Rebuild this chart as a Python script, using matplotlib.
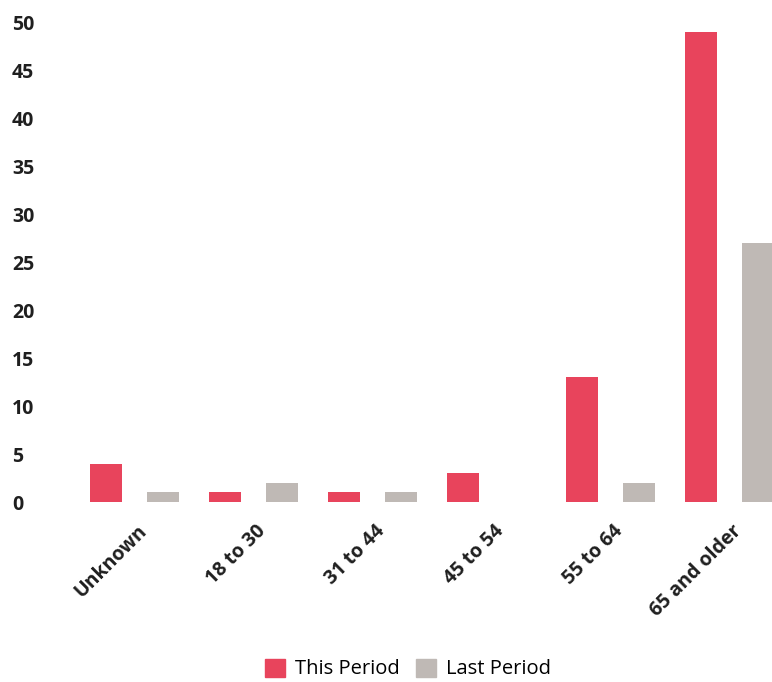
import matplotlib
matplotlib.use("Agg")
import matplotlib.pyplot as plt
import numpy as np
from matplotlib.patches import Patch

categories = ["Unknown", "18 to 30", "31 to 44", "45 to 54", "55 to 64", "65 and older"]
this_period = [4, 1, 1, 3, 13, 49]
last_period = [1, 2, 1, 0, 2, 27]
yticks = [0, 5, 10, 15, 20, 25, 30, 35, 40, 45, 50]

red = "#E8445C"
gray = "#BFB9B5"
txt = "#1f1f1f"

plt.rcParams['font.family'] = ['Open Sans', 'DejaVu Sans']

fig = plt.figure(figsize=(7.72, 6.82), dpi=100)
W, H = 772, 682
ax_left, ax_right = 55, 772
ax_bottom, ax_top = 502, 22
ax = fig.add_axes([ax_left / W, (H - ax_bottom) / H, (ax_right - ax_left) / W, (ax_bottom - ax_top) / H])

x = np.arange(len(categories))
width = 0.27
off = 0.24
ax.bar(x - off, this_period, width, color=red, label="This Period")
ax.bar(x + off, last_period, width, color=gray, label="Last Period")

ax.set_xlim((ax_left - 134.5) / 119, (ax_right - 134.5) / 119)
ax.set_ylim(0, 50)
ax.set_yticks(yticks)
ax.set_yticklabels([str(v) for v in yticks], ha='left', fontsize=14, fontweight='bold', color=txt)
ax.tick_params(axis='y', length=0, pad=31)
ax.set_xticks(x + 0.02)
ax.set_xticklabels(categories, rotation=45, ha='right', rotation_mode='anchor', fontsize=14, fontweight='bold', color=txt)
ax.tick_params(axis='x', length=0, pad=14)
for s in ax.spines.values():
    s.set_visible(False)

handles = [Patch(color=red, label="This Period"), Patch(color=gray, label="Last Period")]
fig.legend(handles=handles, loc='center', bbox_to_anchor=(408 / W, 13 / H), ncol=2, frameon=False,
           fontsize=14.5, handlelength=1.0, handleheight=1.0, handletextpad=0.5, columnspacing=0.8)

fig.savefig("out.png", dpi=100)
